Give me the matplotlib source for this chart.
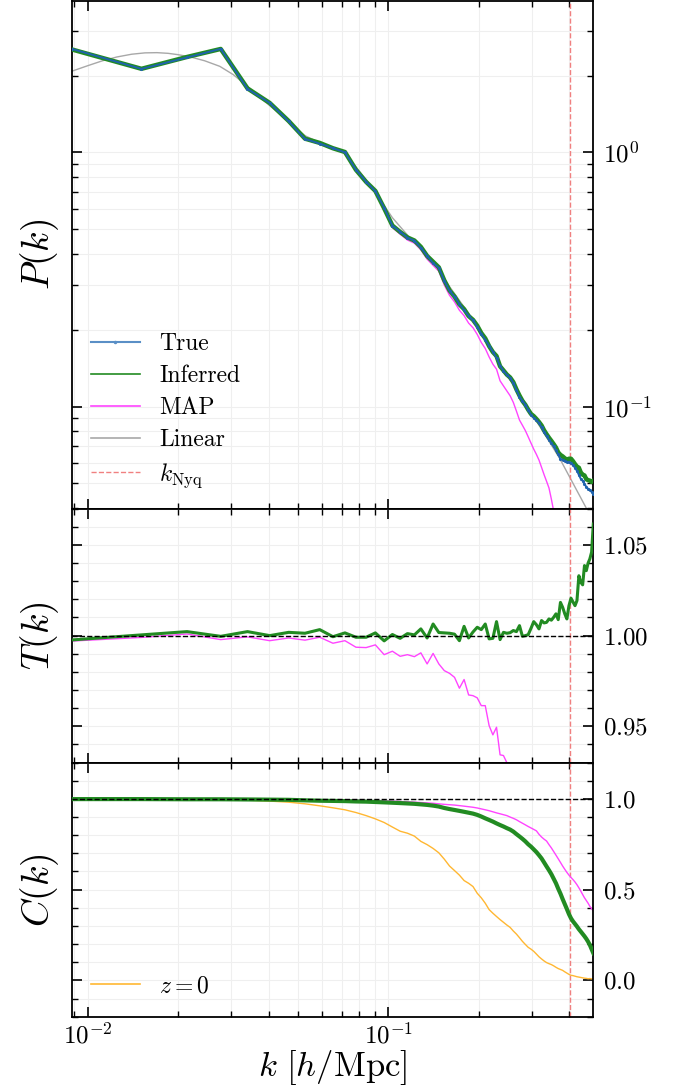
import numpy as np
import matplotlib
matplotlib.use("Agg")
import matplotlib.pyplot as plt
from matplotlib.ticker import NullFormatter, MultipleLocator
from matplotlib.lines import Line2D

plt.rcParams['font.family'] = 'serif'
plt.rcParams['font.serif'] = ['cmr10', 'DejaVu Serif']
plt.rcParams['mathtext.fontset'] = 'cm'
plt.rcParams['axes.formatter.use_mathtext'] = True
plt.rcParams['axes.unicode_minus'] = False

# ---------------- data ----------------
k = [0.00885, 0.0151, 0.0214, 0.0277, 0.0340, 0.0403, 0.0466, 0.0528, 0.0591, 0.0654,
     0.0717, 0.0780, 0.0843, 0.0905, 0.0968, 0.1031, 0.1094, 0.1157, 0.1220, 0.1282,
     0.1345, 0.1408, 0.1471, 0.1534, 0.1597, 0.1659, 0.1722, 0.1785, 0.1848, 0.1911,
     0.1974, 0.2036, 0.2099, 0.2162, 0.2225, 0.2288, 0.2351, 0.2413, 0.2476, 0.2539,
     0.2602, 0.2665, 0.2728, 0.2790, 0.2853, 0.2916, 0.2979, 0.3042, 0.3105, 0.3167,
     0.3230, 0.3293, 0.3356, 0.3419, 0.3482, 0.3544, 0.3607, 0.3670, 0.3733, 0.3796,
     0.3859, 0.3921, 0.3984, 0.4047, 0.4110, 0.4173, 0.4236, 0.4298, 0.4361, 0.4424,
     0.4487, 0.4550, 0.4613, 0.4675, 0.4738, 0.4801]

P_true = [2.551, 2.128, 2.360, 2.551, 1.776, 1.564, 1.323, 1.129, 1.082, 1.039,
          1.000, 0.855, 0.767, 0.703, 0.606, 0.515, 0.488, 0.462, 0.450, 0.422,
          0.3925, 0.3667, 0.352, 0.313, 0.2858, 0.2707, 0.2541, 0.2395, 0.2279, 0.2188,
          0.2064, 0.1937, 0.1834, 0.1738, 0.1646, 0.1559, 0.1449, 0.1385, 0.1335, 0.1300,
          0.1243, 0.1166, 0.1095, 0.1056, 0.1018, 0.0973, 0.0930, 0.0905, 0.0885, 0.0865,
          0.0831, 0.0797, 0.0769, 0.0742, 0.0722, 0.0699, 0.0675, 0.0650, 0.0624, 0.0619,
          0.0613, 0.0608, 0.0605, 0.0600, 0.0589, 0.0576, 0.0560, 0.0540, 0.0521, 0.0512,
          0.0498, 0.0484, 0.0476, 0.0472, 0.0463, 0.0455]

T_inf = [0.9976, 1.0004, 1.0022, 0.9996, 1.0022, 1.0000, 1.0018, 1.0013, 1.0033, 0.9994,
         1.0015, 0.9991, 0.9991, 1.0015, 0.9971, 1.0006, 0.9985, 1.0011, 1.0004, 1.0037,
         0.9987, 1.0064, 1.0017, 1.0015, 1.0013, 1.0008, 0.9972, 1.0051, 0.9987, 1.0020,
         1.0046, 1.0033, 1.0064, 0.9982, 0.9985, 1.0077, 0.9978, 1.0018, 1.0013, 1.0016,
         1.0028, 1.0022, 1.0055, 0.9996, 1.0000, 1.0005, 1.0040, 1.0077, 1.0060, 1.0037,
         1.0083, 1.0070, 1.0073, 1.0092, 1.0085, 1.0101, 1.0120, 1.0088, 1.0183, 1.0156,
         1.0120, 1.0092, 1.0165, 1.0206, 1.0185, 1.0165, 1.0193, 1.0330, 1.0294, 1.0280,
         1.0386, 1.0358, 1.0400, 1.0423, 1.0460, 1.0615]

T_map = [0.9970, 0.9990, 1.0009, 0.9978, 0.9993, 0.9972, 0.9987, 0.9975, 0.9991, 0.9958,
         0.9972, 0.9936, 0.9934, 0.9949, 0.9895, 0.9914, 0.9886, 0.9895, 0.9884, 0.9905,
         0.9844, 0.9902, 0.9844, 0.9807, 0.9792, 0.9770, 0.9710, 0.9758, 0.9673, 0.9669,
         0.9657, 0.9614, 0.9614, 0.9504, 0.9453, 0.9495, 0.9343, 0.9339, 0.9300, 0.922,
         0.915, 0.908, 0.900, 0.895, 0.890, 0.885, 0.880, 0.868, 0.857, 0.845,
         0.834, 0.824, 0.814, 0.804, 0.775, 0.746, 0.720, 0.700, 0.680, 0.660,
         0.640, 0.625, 0.610, 0.595, 0.580, 0.565, 0.550, 0.540, 0.530, 0.520,
         0.510, 0.500, 0.490, 0.480, 0.470, 0.460]

C_inf = [0.999, 0.999, 0.998, 0.998, 0.997, 0.996, 0.995, 0.992, 0.990, 0.989,
         0.988, 0.986, 0.985, 0.983, 0.981, 0.979, 0.977, 0.975, 0.973, 0.970,
         0.967, 0.963, 0.958, 0.950, 0.944, 0.939, 0.934, 0.929, 0.924, 0.919,
         0.912, 0.903, 0.893, 0.884, 0.875, 0.865, 0.856, 0.848, 0.839, 0.831,
         0.820, 0.806, 0.793, 0.780, 0.766, 0.750, 0.737, 0.722, 0.707, 0.690,
         0.672, 0.650, 0.628, 0.607, 0.585, 0.560, 0.535, 0.505, 0.478, 0.448,
         0.420, 0.393, 0.365, 0.342, 0.325, 0.311, 0.297, 0.282, 0.269, 0.256,
         0.243, 0.229, 0.213, 0.195, 0.172, 0.150]

C_map = [1.000, 0.999, 0.999, 0.999, 0.998, 0.998, 0.997, 0.996, 0.995, 0.994,
         0.993, 0.992, 0.991, 0.990, 0.989, 0.988, 0.986, 0.984, 0.982, 0.980,
         0.978, 0.976, 0.973, 0.970, 0.968, 0.966, 0.963, 0.960, 0.957, 0.954,
         0.950, 0.945, 0.940, 0.935, 0.929, 0.923, 0.918, 0.913, 0.908, 0.900,
         0.893, 0.885, 0.875, 0.866, 0.857, 0.848, 0.840, 0.832, 0.824, 0.805,
         0.790, 0.778, 0.768, 0.748, 0.730, 0.710, 0.690, 0.670, 0.650, 0.630,
         0.612, 0.595, 0.580, 0.567, 0.555, 0.542, 0.527, 0.510, 0.492, 0.473,
         0.455, 0.440, 0.425, 0.408, 0.395, 0.382]

C_z0 = [1.000, 0.999, 0.998, 0.996, 0.993, 0.988, 0.982, 0.973, 0.962, 0.951,
        0.940, 0.925, 0.908, 0.890, 0.870, 0.845, 0.822, 0.811, 0.795, 0.766,
        0.748, 0.727, 0.703, 0.668, 0.630, 0.605, 0.580, 0.550, 0.535, 0.517,
        0.480, 0.455, 0.425, 0.390, 0.370, 0.352, 0.335, 0.320, 0.305, 0.292,
        0.272, 0.255, 0.235, 0.215, 0.198, 0.182, 0.172, 0.160, 0.145, 0.130,
        0.118, 0.107, 0.098, 0.092, 0.087, 0.080, 0.072, 0.065, 0.060, 0.055,
        0.047, 0.040, 0.033, 0.028, 0.026, 0.023, 0.020, 0.018, 0.016, 0.014,
        0.012, 0.011, 0.009, 0.010, 0.008, 0.009]

k_lin = [0.00885, 0.0100, 0.0112, 0.0125, 0.0140, 0.0155, 0.0170, 0.0185, 0.0200,
         0.0220, 0.0245, 0.0275, 0.0305, 0.0338, 0.0370, 0.0403, 0.0440, 0.0482,
         0.0530, 0.0591, 0.0650, 0.0707, 0.0800, 0.0901, 0.1031, 0.1177, 0.1403,
         0.1598, 0.1935, 0.2343, 0.2986, 0.3707, 0.4548, 0.481]
P_lin = [2.083, 2.190, 2.290, 2.370, 2.430, 2.460, 2.465, 2.450, 2.420,
         2.370, 2.290, 2.178, 2.020, 1.829, 1.660, 1.526, 1.400, 1.265,
         1.160, 1.092, 1.040, 1.009, 0.845, 0.7005, 0.5535, 0.462, 0.3716,
         0.2963, 0.2159, 0.1476, 0.0947, 0.0628, 0.0400, 0.0356]

k_nyq = 0.402

# ---------------- derived ----------------
k_a = np.array(k)
P_true_a = np.array(P_true)
P_inf = P_true_a * np.array(T_inf) ** 2
P_map = P_true_a * np.array(T_map) ** 2

# ---------------- figure ----------------
fig = plt.figure(figsize=(6.75, 10.92), dpi=100)
gs = fig.add_gridspec(3, 1, height_ratios=[2, 1, 1], hspace=0,
                      left=0.1062, right=0.879, top=0.9995, bottom=0.0690)
ax1 = fig.add_subplot(gs[0])
ax2 = fig.add_subplot(gs[1], sharex=ax1)
ax3 = fig.add_subplot(gs[2], sharex=ax1)

c_true = '#1f63ad'
c_inf = 'forestgreen'
c_map = '#ff44ff'
c_lin = '#a8a8a8'
c_nyq = '#f08080'
c_z0 = '#ffb732'

# top panel
ax1.plot(k_a, P_inf, color=c_inf, lw=3.2, zorder=3)
ax1.plot(k_a, P_true_a, color=c_true, lw=1.4, marker='.', ms=2.5, zorder=4)
ax1.plot(k_a, P_map, color=c_map, lw=1.0, zorder=2)
ax1.plot(k_lin, P_lin, color=c_lin, lw=1.0, zorder=1)
ax1.axvline(k_nyq, color=c_nyq, ls='--', lw=1.0, zorder=1)
ax1.set_xscale('log')
ax1.set_yscale('log')
ax1.set_ylim(0.0398, 3.95)
handles = [
    Line2D([], [], color='#5a8fc6', lw=1.5, marker='.', ms=3),
    Line2D([], [], color=c_inf, lw=1.2),
    Line2D([], [], color=c_map, lw=1.2),
    Line2D([], [], color=c_lin, lw=1.2),
    Line2D([], [], color=c_nyq, lw=1.0, ls='--'),
]
labels = ['True', 'Inferred', 'MAP', 'Linear', r'$k_{\rm Nyq}$']
ax1.legend(handles, labels, loc='lower left', frameon=False,
           fontsize=17, labelspacing=0.42, handlelength=2.1, handletextpad=0.8,
           borderaxespad=0.4)
ax1.set_ylabel(r'$P(k)$', fontsize=27, labelpad=8)

# middle panel
ax2.plot(k_a, T_inf, color=c_inf, lw=2.2, zorder=3)
ax2.plot(k_a, T_map, color=c_map, lw=1.0, zorder=2)
ax2.axhline(1.0, color='black', ls='--', lw=1.0, zorder=4)
ax2.axvline(k_nyq, color=c_nyq, ls='--', lw=1.0, zorder=1)
ax2.set_ylim(0.93, 1.07)
ax2.yaxis.set_major_locator(MultipleLocator(0.05))
ax2.yaxis.set_minor_locator(MultipleLocator(0.01))
ax2.set_ylabel(r'$T(k)$', fontsize=27, labelpad=8)

# bottom panel
ax3.plot(k_a, C_inf, color=c_inf, lw=3.0, zorder=3)
ax3.plot(k_a, C_map, color=c_map, lw=1.0, zorder=2)
ax3.plot(k_a, C_z0, color=c_z0, lw=1.0, zorder=2)
ax3.axhline(1.0, color='black', ls='--', lw=1.0, zorder=4)
ax3.axvline(k_nyq, color=c_nyq, ls='--', lw=1.0, zorder=1)
ax3.set_ylim(-0.2, 1.2)
ax3.yaxis.set_major_locator(MultipleLocator(0.5))
ax3.yaxis.set_minor_locator(MultipleLocator(0.1))
ax3.legend([Line2D([], [], color=c_z0, lw=1.2)], [r'$z=0$'], loc='lower left', frameon=False,
           fontsize=17, handlelength=2.1, handletextpad=0.8, borderaxespad=0.4)
ax3.set_ylabel(r'$C(k)$', fontsize=27, labelpad=8)
ax3.set_xlabel(r'$k\ [h/{\rm Mpc}]$', fontsize=25, labelpad=0)

ax1.set_xlim(k[0], k[-1])

for ax in (ax1, ax2, ax3):
    ax.tick_params(which='both', direction='in', top=True, bottom=True, left=True, right=True,
                   labelleft=False, labelright=True, labelsize=18)
    ax.tick_params(axis='y', which='both', pad=7)
    ax.tick_params(axis='x', which='both', pad=4)
    ax.tick_params(which='major', length=7, width=1.2)
    ax.tick_params(which='minor', length=4, width=1.0)
    for s in ax.spines.values():
        s.set_linewidth(1.3)
    ax.grid(True, which='both', color='#efefef', lw=0.8, zorder=0)
    ax.set_axisbelow(True)
    ax.xaxis.set_minor_formatter(NullFormatter())

ax1.yaxis.set_minor_formatter(NullFormatter())
for ax in (ax1, ax2):
    ax.tick_params(labelbottom=False)

fig.align_ylabels([ax1, ax2, ax3])
fig.savefig('out.png', dpi=100)
